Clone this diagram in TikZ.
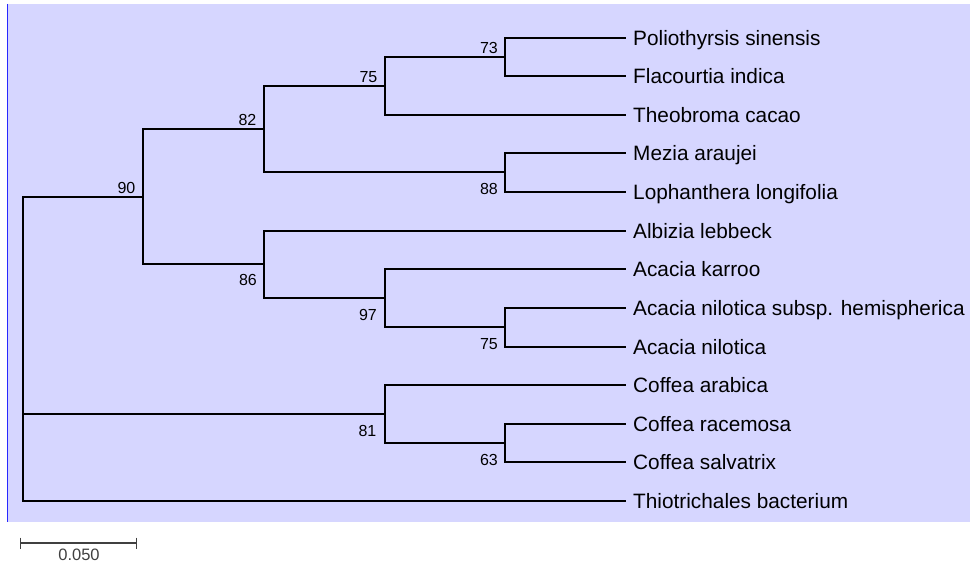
\documentclass[tikz,border=0pt]{standalone}
\usepackage{fontspec}
\setmainfont{Liberation Sans}
\usetikzlibrary{calc}
\definecolor{bgc}{RGB}{214,214,255}
\definecolor{edgeblue}{RGB}{40,40,255}
\definecolor{bargray}{RGB}{64,64,64}
\tikzset{
  branch/.style={line width=1.7pt, black, line cap=rect},
  leaf/.style={anchor=west, inner xsep=8pt, inner ysep=0pt, text height=14.9pt, text depth=0pt,
    font=\fontsize{20.8}{24}\selectfont, text=black},
  bs/.style={anchor=base east, inner sep=0pt, font=\fontsize{16}{18}\selectfont, text=black},
  scalebar/.style={line width=1.4pt, bargray},
}
\begin{document}
\begin{tikzpicture}[x=1pt, y=-1pt]
\useasboundingbox (0,0) rectangle (970,564);
\fill[bgc] (7,4) rectangle (970,521.5);
\draw[edgeblue, line width=1pt] (7,4) -- (7,521.5);

% leaves
\node[leaf] (l1) at (625,38) {Poliothyrsis sinensis};
\node[leaf] (l2) at (625,76) {Flacourtia indica};
\node[leaf] (l3) at (625,115) {Theobroma cacao};
\node[leaf] (l4) at (625,153) {Mezia araujei};
\node[leaf] (l5) at (625,192) {Lophanthera longifolia};
\node[leaf] (l6) at (625,231) {Albizia lebbeck};
\node[leaf] (l7) at (625,269) {Acacia karroo};
\node[leaf] (l8) at (625,308) {Acacia nilotica subsp. hemispherica};
\node[leaf] (l9) at (625,347) {Acacia nilotica};
\node[leaf] (l10) at (625,385) {Coffea arabica};
\node[leaf] (l11) at (625,424) {Coffea racemosa};
\node[leaf] (l12) at (625,462) {Coffea salvatrix};
\node[leaf] (l13) at (625,501) {Thiotrichales bacterium};

% internal nodes
\coordinate (n73) at (505,57);
\coordinate (n75a) at (385,86);
\coordinate (n88) at (505,172);
\coordinate (n82) at (264,129);
\coordinate (n75b) at (505,327);
\coordinate (n97) at (385,298);
\coordinate (n86) at (264,264);
\coordinate (n90) at (143,197);
\coordinate (n63) at (505,443);
\coordinate (n81) at (385,414);
\coordinate (root) at (23,349);

% branches
\draw[branch] (l1.west) -| (n73) |- (l2.west);
\draw[branch] (n73) -| (n75a) |- (l3.west);
\draw[branch] (l4.west) -| (n88) |- (l5.west);
\draw[branch] (n75a) -| (n82) |- (n88);
\draw[branch] (l8.west) -| (n75b) |- (l9.west);
\draw[branch] (l7.west) -| (n97) |- (n75b);
\draw[branch] (l6.west) -| (n86) |- (n97);
\draw[branch] (n82) -| (n90) |- (n86);
\draw[branch] (l11.west) -| (n63) |- (l12.west);
\draw[branch] (l10.west) -| (n81) |- (n63);
\draw[branch] (n90) -| (root) |- (l13.west);
\draw[branch] (root |- n81) -- (n81);

% bootstrap values
\node[bs] (b73) at ($(n73)+(-7,-3.7)$) {73};
\node[bs] (b75a) at ($(n75a)+(-7.5,-3.5)$) {75};
\node[bs] (b82) at ($(n82)+(-7.5,-3.5)$) {82};
\node[bs] (b90) at ($(n90)+(-7.5,-3.5)$) {90};
\node[bs] (b88) at ($(n88)+(-7,22.5)$) {88};
\node[bs] (b86) at ($(n86)+(-7,22)$) {86};
\node[bs] (b97) at ($(n97)+(-8,22)$) {97};
\node[bs] (b75b) at ($(n75b)+(-7,22.3)$) {75};
\node[bs] (b81) at ($(n81)+(-8.5,22.6)$) {81};
\node[bs] (b63) at ($(n63)+(-7,22.6)$) {63};

% scale bar
\coordinate (sb1) at (20.5,543);
\coordinate (sb2) at (136.5,543);
\draw[scalebar] (sb1) -- (sb2);
\draw[scalebar] ($(sb1)+(0,-5.5)$) -- ($(sb1)+(0,5.5)$);
\draw[scalebar] ($(sb2)+(0,-5.5)$) -- ($(sb2)+(0,5.5)$);
\node[bs, anchor=base, text=bargray, font=\fontsize{16.5}{18}\selectfont] (sbl) at (79,560.5) {0.050};
\end{tikzpicture}
\end{document}
